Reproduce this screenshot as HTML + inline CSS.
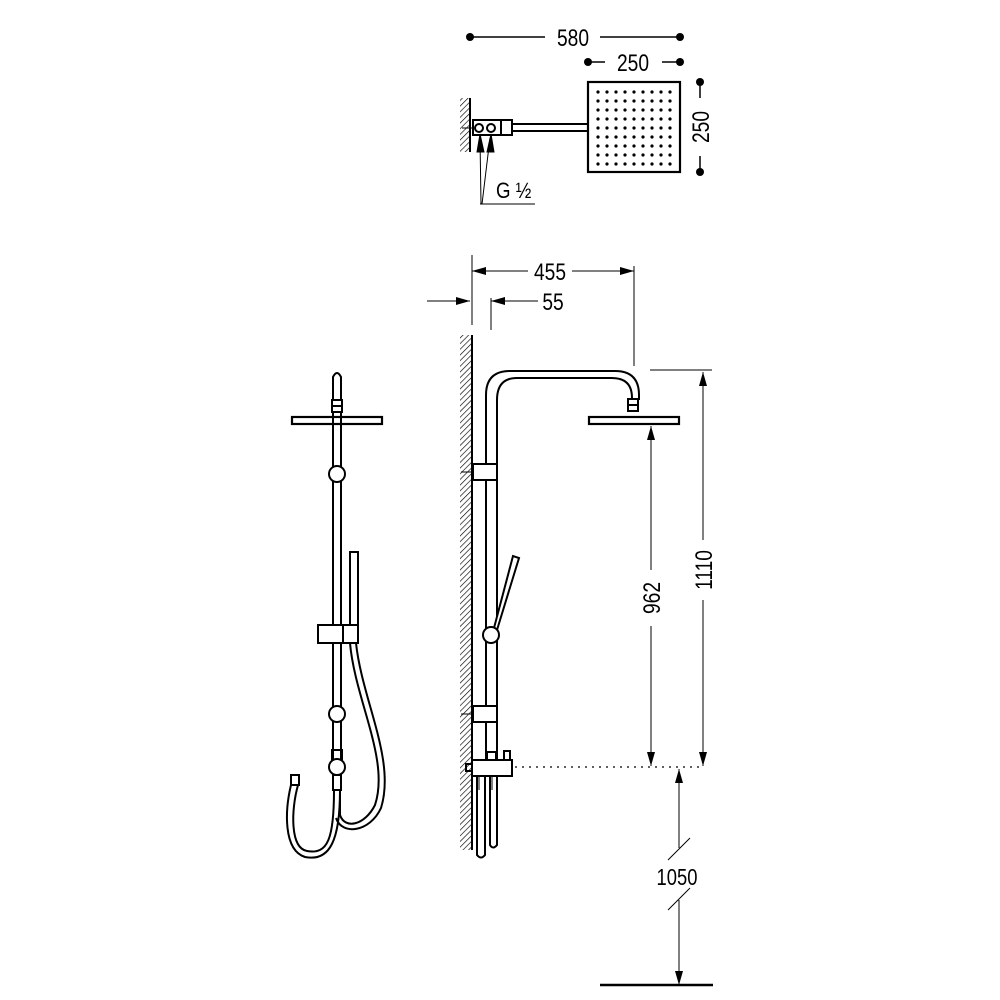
<!DOCTYPE html>
<html><head><style>html,body{margin:0;padding:0;background:#fff}svg{display:block}</style></head>
<body>
<svg width="1000" height="1000" viewBox="0 0 1000 1000" xmlns="http://www.w3.org/2000/svg" font-family="Liberation Sans, sans-serif">
<defs>
<pattern id="h" width="4" height="4" patternUnits="userSpaceOnUse" patternTransform="rotate(45)">
<line x1="0" y1="0" x2="0" y2="4" stroke="#000" stroke-width="1.3"/></pattern>
<marker id="a" markerWidth="14" markerHeight="8" refX="14" refY="4" orient="auto" markerUnits="userSpaceOnUse"><path d="M0,0 L14,4 L0,8z" fill="#000"/></marker>
<marker id="as" markerWidth="14" markerHeight="8" refX="0" refY="4" orient="auto" markerUnits="userSpaceOnUse"><path d="M14,0 L0,4 L14,8z" fill="#000"/></marker>
</defs>
<g stroke="#000" fill="none" stroke-width="2">
<!-- TOP VIEW -->
<line x1="470" y1="37" x2="545" y2="37" stroke-width="1.5"/><line x1="600" y1="37" x2="680" y2="37" stroke-width="1.5"/>
<line x1="588" y1="62" x2="605" y2="62" stroke-width="1.5"/><line x1="662" y1="62" x2="680" y2="62" stroke-width="1.5"/>
<line x1="700" y1="82" x2="700" y2="98" stroke-width="1.5"/><line x1="700" y1="156" x2="700" y2="172" stroke-width="1.5"/>
<rect x="460" y="98" width="10" height="54" fill="url(#h)" stroke="none"/>
<line x1="470" y1="98" x2="470" y2="152"/>
<line x1="462" y1="128" x2="473" y2="128" stroke-width="1"/>
<rect x="473" y="120" width="39" height="15" fill="#fff"/>
<line x1="501" y1="120" x2="501" y2="135"/>
<circle cx="479" cy="128" r="4"/><circle cx="491" cy="128" r="4"/>
<rect x="512" y="124" width="76" height="7"/>
<rect x="588" y="82" width="92" height="90" stroke-width="2.2"/>
<line x1="480" y1="138" x2="481" y2="204" stroke-width="1"/><line x1="490" y1="138" x2="482" y2="204" stroke-width="1"/>
<path d="M477,152 L480,134 L484,152z M487,152 L491,134 L494,152z" fill="#000" stroke-width="1"/>
<line x1="480" y1="204" x2="535" y2="204" stroke-width="1"/>
<!-- SIDE VIEW dims -->
<line x1="472" y1="255" x2="472" y2="325" stroke-width="1"/>
<line x1="634" y1="266" x2="634" y2="366" stroke-width="1"/>
<line x1="472" y1="271" x2="528" y2="271" marker-start="url(#as)" stroke-width="1"/>
<line x1="572" y1="271" x2="634" y2="271" marker-end="url(#a)" stroke-width="1"/>
<line x1="427" y1="301" x2="470" y2="301" marker-end="url(#a)" stroke-width="1"/>
<line x1="491" y1="298" x2="491" y2="330" stroke-width="1"/>
<line x1="491" y1="301" x2="538" y2="301" marker-start="url(#as)" stroke-width="1"/>
<!-- wall -->
<rect x="460" y="335" width="11" height="515" fill="url(#h)" stroke="none"/>
<line x1="472" y1="335" x2="472" y2="850"/>
<!-- pipe -->
<path d="M486,760 V395 Q486,371 510,371 H615 Q639,371 639,395 V400"/>
<path d="M497,760 V400 Q497,378 517,378 H612 Q632,378 632,398 V400"/>
<rect x="628" y="399" width="10" height="12" fill="#fff"/>
<line x1="628" y1="405" x2="638" y2="405"/>
<rect x="589" y="417" width="90" height="7" stroke-width="2.2"/>
<rect x="473" y="464" width="24" height="16" fill="#fff"/>
<rect x="473" y="706" width="24" height="16" fill="#fff"/>
<line x1="461" y1="472" x2="473" y2="472" stroke-width="1"/>
<line x1="461" y1="714" x2="473" y2="714" stroke-width="1"/>
<path d="M494,628 L513,556 L519,558 L497,630" fill="#fff"/>
<circle cx="491" cy="635" r="8" fill="#fff"/>
<rect x="487" y="752" width="9" height="8"/>
<rect x="504" y="751" width="6" height="9"/>
<rect x="472" y="760" width="40" height="16" fill="#fff"/>
<rect x="466" y="764" width="6" height="7"/>
<path d="M477,776 V855 Q481,860 485,855 V776"/>
<path d="M490,776 V845 Q493,850 497,845 V776"/>
<line x1="479" y1="776" x2="479" y2="790" stroke-width="1"/><line x1="492" y1="776" x2="492" y2="790" stroke-width="1"/>
<!-- dims right -->
<line x1="515" y1="767" x2="700" y2="767" stroke-dasharray="2,5" stroke-width="1.3"/>
<line x1="650" y1="370" x2="712" y2="370" stroke-width="1"/>
<line x1="651" y1="426" x2="651" y2="570" marker-start="url(#as)" stroke-width="1"/>
<line x1="651" y1="626" x2="651" y2="766" marker-end="url(#a)" stroke-width="1"/>
<line x1="703" y1="372" x2="703" y2="540" marker-start="url(#as)" stroke-width="1"/>
<line x1="703" y1="600" x2="703" y2="766" marker-end="url(#a)" stroke-width="1"/>
<line x1="679" y1="769" x2="679" y2="848" marker-start="url(#as)" stroke-width="1"/>
<line x1="668" y1="860" x2="690" y2="838" stroke-width="1"/>
<line x1="668" y1="910" x2="690" y2="888" stroke-width="1"/>
<line x1="679" y1="900" x2="679" y2="985" marker-end="url(#a)" stroke-width="1"/>
<line x1="600" y1="985" x2="713" y2="985" stroke-width="2.5"/>
<!-- FRONT VIEW -->
<path d="M333,790 V377 Q337,369 341,377 V790"/>
<rect x="332" y="400" width="10" height="12" fill="#fff"/>
<line x1="332" y1="406" x2="342" y2="406"/>
<rect x="292" y="417" width="90" height="7" stroke-width="2.2"/>
<circle cx="337" cy="474" r="8" fill="#fff"/>
<rect x="350" y="552" width="8" height="76" fill="#fff"/>
<rect x="318" y="625" width="25" height="18" fill="#fff"/>
<rect x="343" y="625" width="15" height="18" fill="#fff"/>
<circle cx="337" cy="714" r="8" fill="#fff"/>
<rect x="332" y="750" width="10" height="10"/>
<circle cx="337" cy="767" r="8" fill="#fff"/>
<rect x="333" y="775" width="8" height="15" fill="#fff"/>
<path d="M350,643 C355,700 390,760 375,805 C365,825 345,830 340,815 V790"/>
<path d="M356,643 C362,700 396,760 381,808 C370,832 342,836 336,818"/>
<rect x="291" y="775" width="8" height="10"/>
<path d="M291,785 C285,810 283,850 305,857 C330,862 340,840 340,790"/>
<path d="M298,785 C291,810 290,848 307,851 C328,855 334,838 334,790"/>
</g>
<g fill="#000">
<circle cx="470" cy="37" r="4"/><circle cx="680" cy="37" r="4"/>
<circle cx="588" cy="62" r="4"/><circle cx="680" cy="62" r="4"/>
<circle cx="700" cy="82" r="4"/><circle cx="700" cy="172" r="4"/>
</g>
<g fill="#000" font-size="24">
<text transform="translate(573,46) scale(0.8,1)" text-anchor="middle">580</text>
<text transform="translate(633,71) scale(0.8,1)" text-anchor="middle">250</text>
<text transform="translate(709,127) rotate(-90) scale(0.8,1)" text-anchor="middle">250</text>
<text transform="translate(496,198) scale(0.85,1)" font-size="22">G ½</text>
<text transform="translate(550,280) scale(0.8,1)" text-anchor="middle">455</text>
<text transform="translate(553,310) scale(0.8,1)" text-anchor="middle">55</text>
<text transform="translate(660,598) rotate(-90) scale(0.8,1)" text-anchor="middle">962</text>
<text transform="translate(712,570) rotate(-90) scale(0.8,1)" text-anchor="middle">1110</text>
<text transform="translate(677,885) scale(0.8,1)" text-anchor="middle" font-size="23">1050</text>
</g>
<g fill="#000">
<circle cx="598" cy="92" r="1.6"/><circle cx="607" cy="92" r="1.6"/><circle cx="616" cy="92" r="1.6"/><circle cx="625" cy="92" r="1.6"/><circle cx="634" cy="92" r="1.6"/><circle cx="643" cy="92" r="1.6"/><circle cx="652" cy="92" r="1.6"/><circle cx="661" cy="92" r="1.6"/><circle cx="670" cy="92" r="1.6"/>
<circle cx="598" cy="101" r="1.6"/><circle cx="607" cy="101" r="1.6"/><circle cx="616" cy="101" r="1.6"/><circle cx="625" cy="101" r="1.6"/><circle cx="634" cy="101" r="1.6"/><circle cx="643" cy="101" r="1.6"/><circle cx="652" cy="101" r="1.6"/><circle cx="661" cy="101" r="1.6"/><circle cx="670" cy="101" r="1.6"/>
<circle cx="598" cy="110" r="1.6"/><circle cx="607" cy="110" r="1.6"/><circle cx="616" cy="110" r="1.6"/><circle cx="625" cy="110" r="1.6"/><circle cx="634" cy="110" r="1.6"/><circle cx="643" cy="110" r="1.6"/><circle cx="652" cy="110" r="1.6"/><circle cx="661" cy="110" r="1.6"/><circle cx="670" cy="110" r="1.6"/>
<circle cx="598" cy="119" r="1.6"/><circle cx="607" cy="119" r="1.6"/><circle cx="616" cy="119" r="1.6"/><circle cx="625" cy="119" r="1.6"/><circle cx="634" cy="119" r="1.6"/><circle cx="643" cy="119" r="1.6"/><circle cx="652" cy="119" r="1.6"/><circle cx="661" cy="119" r="1.6"/><circle cx="670" cy="119" r="1.6"/>
<circle cx="598" cy="128" r="1.6"/><circle cx="607" cy="128" r="1.6"/><circle cx="616" cy="128" r="1.6"/><circle cx="625" cy="128" r="1.6"/><circle cx="634" cy="128" r="1.6"/><circle cx="643" cy="128" r="1.6"/><circle cx="652" cy="128" r="1.6"/><circle cx="661" cy="128" r="1.6"/><circle cx="670" cy="128" r="1.6"/>
<circle cx="598" cy="137" r="1.6"/><circle cx="607" cy="137" r="1.6"/><circle cx="616" cy="137" r="1.6"/><circle cx="625" cy="137" r="1.6"/><circle cx="634" cy="137" r="1.6"/><circle cx="643" cy="137" r="1.6"/><circle cx="652" cy="137" r="1.6"/><circle cx="661" cy="137" r="1.6"/><circle cx="670" cy="137" r="1.6"/>
<circle cx="598" cy="146" r="1.6"/><circle cx="607" cy="146" r="1.6"/><circle cx="616" cy="146" r="1.6"/><circle cx="625" cy="146" r="1.6"/><circle cx="634" cy="146" r="1.6"/><circle cx="643" cy="146" r="1.6"/><circle cx="652" cy="146" r="1.6"/><circle cx="661" cy="146" r="1.6"/><circle cx="670" cy="146" r="1.6"/>
<circle cx="598" cy="155" r="1.6"/><circle cx="607" cy="155" r="1.6"/><circle cx="616" cy="155" r="1.6"/><circle cx="625" cy="155" r="1.6"/><circle cx="634" cy="155" r="1.6"/><circle cx="643" cy="155" r="1.6"/><circle cx="652" cy="155" r="1.6"/><circle cx="661" cy="155" r="1.6"/><circle cx="670" cy="155" r="1.6"/>
<circle cx="598" cy="164" r="1.6"/><circle cx="607" cy="164" r="1.6"/><circle cx="616" cy="164" r="1.6"/><circle cx="625" cy="164" r="1.6"/><circle cx="634" cy="164" r="1.6"/><circle cx="643" cy="164" r="1.6"/><circle cx="652" cy="164" r="1.6"/><circle cx="661" cy="164" r="1.6"/><circle cx="670" cy="164" r="1.6"/>
</g>
</svg>
</body></html>
